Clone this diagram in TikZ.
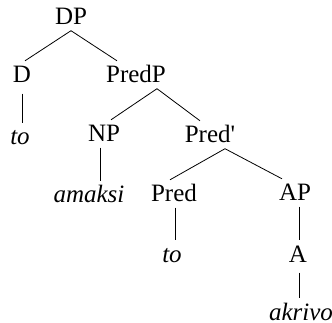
\documentclass[tikz,border=0pt]{standalone}
\usepackage{fontspec}
\newfontfamily\treefont{Liberation Serif}
\usetikzlibrary{calc}
\begin{document}
\begin{tikzpicture}[x=1pt,y=1pt,
  tn/.style={font=\treefont\fontsize{25}{27}\selectfont, anchor=base, inner xsep=0pt, inner ysep=5.5pt, text height=16.5pt, text depth=0pt},
  tw/.style={tn, font=\treefont\fontsize{25}{27}\selectfont\itshape},
  br/.style={line width=0.8pt}]
\useasboundingbox (0,0) rectangle (332,-323);
\node[tn] (DP) at (71,-25) {DP};
\node[tn] (D) at (22,-83) {D};
\node[tn] (PredP) at (136,-83) {PredP};
\node[tw] (to1) at (20,-145) {to};
\node[tn] (NP) at (104,-142) {NP};
\node[tn] (PredB) at (210,-143) {Pred'};
\node[tw] (amaksi) at (89,-203) {amaksi};
\node[tn] (Pred) at (174,-202) {Pred};
\node[tn] (AP) at (295,-201) {AP};
\node[tw] (to2) at (172,-262) {to};
\node[tn] (A) at (298,-262) {A};
\node[tw] (akrivo) at (301,-320) {akrivo};
\draw[br] (DP.south) -- ([xshift=3pt]D.north);
\draw[br] (DP.south) -- ([xshift=-19pt]PredP.north);
\draw[br] ([yshift=-5pt]D.south) -- (D.south |- to1.north);
\draw[br] ([xshift=21pt]PredP.south) -- ([xshift=7pt]NP.north);
\draw[br] ([xshift=21pt]PredP.south) -- ([xshift=-10pt]PredB.north);
\draw[br] ([xshift=-4pt]NP.south) -- ([xshift=-4pt]NP.south |- amaksi.north);
\draw[br] ([xshift=15pt]PredB.south) -- ([xshift=-4pt]Pred.north);
\draw[br] ([xshift=15pt]PredB.south) -- ([xshift=-13pt]AP.north);
\draw[br] ([xshift=1pt]Pred.south) -- ([xshift=1pt]Pred.south |- to2.north);
\draw[br] ([xshift=4pt]AP.south) -- ([xshift=4pt]AP.south |- A.north);
\draw[br] ([xshift=1pt,yshift=-5pt]A.south) -- ([xshift=1pt]A.south |- akrivo.north);
\end{tikzpicture}
\end{document}
